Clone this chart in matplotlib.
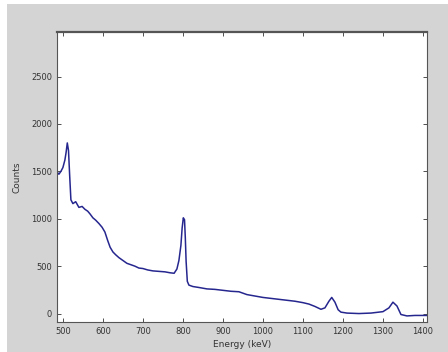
import matplotlib
matplotlib.use("Agg")
import matplotlib.pyplot as plt
from matplotlib.patches import Rectangle

# spectrum
energy_kev = [485, 490, 495, 500, 505, 508, 511, 514, 517, 520, 525, 532, 540, 548,
              555, 562, 568, 575, 582, 590, 598, 605, 612, 618, 625, 632, 640, 650,
              660, 670, 680, 690, 700, 712, 725, 740, 755, 768, 778, 785, 790, 795,
              798, 801, 804, 806, 808, 811, 815, 825, 840, 860, 880, 900, 920, 940,
              960, 980, 1000, 1020, 1040, 1060, 1080, 1100, 1115, 1130, 1145, 1155,
              1165, 1172, 1180, 1188, 1195, 1210, 1240, 1270, 1300, 1315, 1325, 1335,
              1345, 1360, 1380, 1410]
counts = [1495, 1470, 1500, 1540, 1620, 1700, 1800, 1720, 1450, 1200, 1160, 1180, 1120, 1130,
          1100, 1080, 1050, 1010, 985, 950, 910, 860, 770, 700, 650, 620, 590, 560,
          530, 515, 500, 480, 475, 460, 450, 445, 440, 430, 425, 470, 560, 720,
          900, 1010, 990, 800, 550, 340, 300, 285, 275, 260, 255, 245, 235, 230,
          200, 185, 170, 160, 150, 140, 130, 115, 100, 75, 45, 60,
          130, 170, 120, 40, 15, 5, 0, 5, 20, 60, 120, 80,
          -10, -25, -20, -20]

x_ticks = [500, 600, 700, 800, 900, 1000, 1100, 1200, 1300, 1400]
y_ticks = [0, 500, 1000, 1500, 2000, 2500]

fig = plt.figure(figsize=(4.48, 3.52), dpi=100, facecolor="#d4d4d4")
# thin white strip along the left/top edge of the screenshot
fig.patches.append(Rectangle((0, 0), 7 / 448, 1, transform=fig.transFigure,
                             facecolor="white", edgecolor="none"))
fig.patches.append(Rectangle((0, 1 - 4 / 352), 1, 4 / 352, transform=fig.transFigure,
                             facecolor="white", edgecolor="none"))

ax = fig.add_axes([0.127, 0.085, 0.826, 0.824])
ax.plot(energy_kev, counts, color="#26268f", linewidth=1.1)
ax.set_xlim(485, 1410)
ax.set_ylim(-90, 2970)
ax.set_xticks(x_ticks)
ax.set_yticks(y_ticks)
ax.tick_params(direction="in", top=True, right=True, labelsize=6, colors="#333333",
               length=3, width=0.6)
for s in ax.spines.values():
    s.set_color("#555555")
    s.set_linewidth(0.8)
ax.spines["top"].set_linewidth(1.6)
ax.set_xlabel("Energy (keV)", fontsize=6.5, color="#333333", labelpad=3)
ax.set_ylabel("Counts", fontsize=6.5, color="#333333", labelpad=7)

fig.savefig("out.png", dpi=100, facecolor=fig.get_facecolor())
